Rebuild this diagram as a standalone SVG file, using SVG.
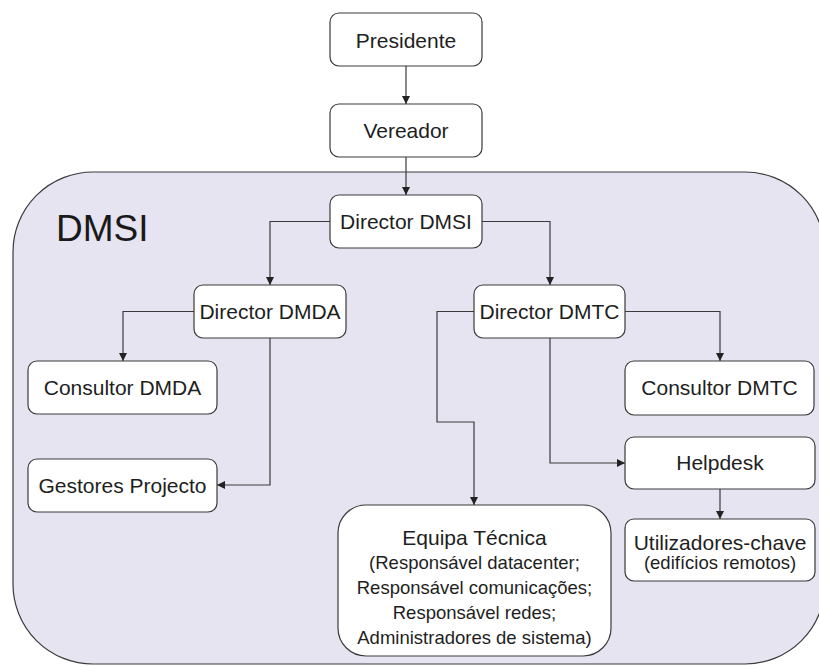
<svg xmlns="http://www.w3.org/2000/svg" width="819" height="666" viewBox="0 0 819 666">
  <style>
    .box { fill: #ffffff; stroke: #3a3a3a; stroke-width: 1.2; }
    .lbl { font-family: "Liberation Sans", Arial, sans-serif; font-size: 21px; fill: #1e1e1e; text-anchor: middle; }
    .sub { font-family: "Liberation Sans", Arial, sans-serif; font-size: 18.5px; fill: #1e1e1e; text-anchor: middle; }
    .conn { fill: none; stroke: #3a3a3a; stroke-width: 1.2; }
  </style>
  <defs>
    <marker id="arrow" viewBox="0 0 10 10" refX="10" refY="5" markerWidth="8" markerHeight="8" markerUnits="userSpaceOnUse" orient="auto">
      <path d="M0,0 L10,5 L0,10 Z" fill="#222"/>
    </marker>
  </defs>

  <rect x="0" y="0" width="819" height="666" fill="#ffffff"/>

  <!-- DMSI department area -->
  <g id="dmsi">
    <rect x="13" y="172" width="812" height="492" rx="80" ry="80" fill="#e6e4f1" stroke="#3a3a3a" stroke-width="1.2"/>
    <text x="56" y="241" font-family="Liberation Sans, Arial, sans-serif" font-size="37" fill="#1a1a1a">DMSI</text>
  </g>

  <!-- connectors -->
  <g id="connectors" class="conn">
    <path class="conn" d="M406,66 V104" marker-end="url(#arrow)"/>
    <path class="conn" d="M406,157 V195" marker-end="url(#arrow)"/>
    <path class="conn" d="M330,221.5 H270 V285" marker-end="url(#arrow)"/>
    <path class="conn" d="M482,221.5 H550 V285" marker-end="url(#arrow)"/>
    <path class="conn" d="M194,311.5 H123 V361" marker-end="url(#arrow)"/>
    <path class="conn" d="M270,338 V485 H217" marker-end="url(#arrow)"/>
    <path class="conn" d="M625,311.5 H720 V361" marker-end="url(#arrow)"/>
    <path class="conn" d="M474,311.5 H437 V422 H474 V505" marker-end="url(#arrow)"/>
    <path class="conn" d="M550,338 V463 H625" marker-end="url(#arrow)"/>
    <path class="conn" d="M720,489 V519" marker-end="url(#arrow)"/>
  </g>

  <g id="presidente">
    <rect class="box" x="330" y="13" width="152" height="53" rx="9"/>
    <text class="lbl" x="406" y="47.5">Presidente</text>
  </g>
  <g id="vereador">
    <rect class="box" x="330" y="104" width="152" height="53" rx="9"/>
    <text class="lbl" x="406" y="138">Vereador</text>
  </g>
  <g id="director-dmsi">
    <rect class="box" x="330" y="195" width="152" height="53" rx="9"/>
    <text class="lbl" x="406" y="229">Director DMSI</text>
  </g>
  <g id="director-dmda">
    <rect class="box" x="194" y="285" width="152" height="53" rx="9"/>
    <text class="lbl" x="270" y="319">Director DMDA</text>
  </g>
  <g id="director-dmtc">
    <rect class="box" x="474" y="285" width="151" height="53" rx="9"/>
    <text class="lbl" x="549.5" y="319">Director DMTC</text>
  </g>
  <g id="consultor-dmda">
    <rect class="box" x="28" y="361" width="189" height="53" rx="9"/>
    <text class="lbl" x="122.5" y="395">Consultor DMDA</text>
  </g>
  <g id="gestores-projecto">
    <rect class="box" x="28" y="459" width="189" height="53" rx="9"/>
    <text class="lbl" x="122.5" y="493">Gestores Projecto</text>
  </g>
  <g id="consultor-dmtc">
    <rect class="box" x="625" y="361" width="189" height="54" rx="9"/>
    <text class="lbl" x="719.5" y="395">Consultor DMTC</text>
  </g>
  <g id="helpdesk">
    <rect class="box" x="625" y="437" width="190" height="52" rx="9"/>
    <text class="lbl" x="720" y="470">Helpdesk</text>
  </g>
  <g id="utilizadores-chave">
    <rect class="box" x="625" y="519" width="190" height="62" rx="9"/>
    <text class="lbl" x="720" y="549.5">Utilizadores-chave</text>
    <text class="sub" x="720" y="569">(edifícios remotos)</text>
  </g>
  <g id="equipa-tecnica">
    <rect class="box" x="338" y="505" width="273" height="151" rx="28"/>
    <text class="lbl" x="474.5" y="545">Equipa Técnica</text>
    <text class="sub" x="474.5" y="569">(Responsável datacenter;</text>
    <text class="sub" x="474.5" y="594">Responsável comunicações;</text>
    <text class="sub" x="474.5" y="619">Responsável redes;</text>
    <text class="sub" x="474.5" y="644">Administradores de sistema)</text>
  </g>
</svg>
